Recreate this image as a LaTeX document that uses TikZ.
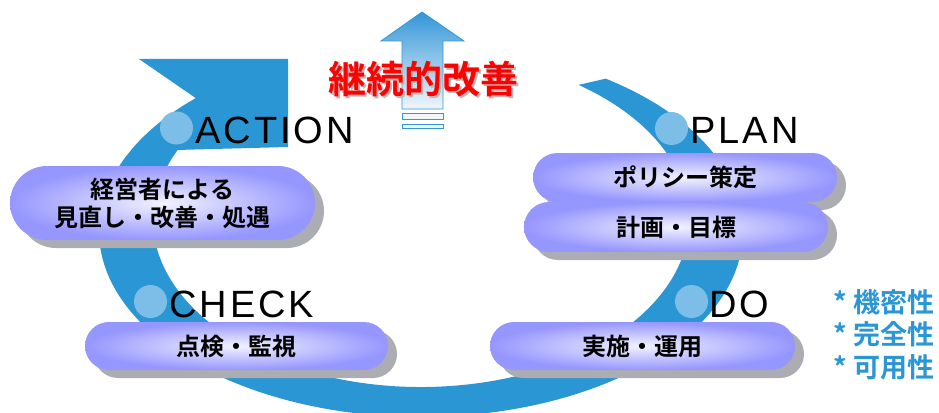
\documentclass[tikz,border=0pt]{standalone}
\usepackage{fontspec}
\setmainfont{Liberation Sans}
\newfontfamily\stagefont{Liberation Sans}[LetterSpace=8.0]
\newfontfamily\jpfont{Noto Sans CJK JP}[BoldFont={Noto Sans CJK JP Bold}]
\usetikzlibrary{calc}
\definecolor{ringblue}{RGB}{42,150,212}
\definecolor{dotblue}{RGB}{125,190,232}
\definecolor{pillin}{RGB}{242,242,255}
\definecolor{pillout}{RGB}{150,150,255}
\definecolor{pillshade}{RGB}{172,173,178}
\definecolor{arrowtop}{RGB}{50,150,215}
\definecolor{arrowbot}{RGB}{242,246,252}
\definecolor{titlered}{RGB}{255,0,0}
\definecolor{titleshade}{RGB}{185,185,185}
\tikzset{
  pill/.style={inner sep=0pt, align=center, text=black, inner color=pillin, outer color=pillout,
    font=\jpfont\bfseries\fontsize{24}{28}\selectfont},
  stage/.style={anchor=base west, inner sep=0pt, font=\stagefont\fontsize{38}{40}\selectfont},
  stagedot/.style={circle, fill=dotblue, minimum size=33pt, inner sep=0pt},
  title/.style={inner sep=0pt, font=\jpfont\bfseries\fontsize{38}{40}\selectfont},
}
% pill box with flat shadow: name, centre, width:height, radius, text
\def\pillbox(#1)(#2,#3)(#4:#5:#6)#7{%
  \fill[pillshade, rounded corners=#6] (#2-#4/2+9, #3-#5/2+8) rectangle (#2+#4/2+9, #3+#5/2+8);
  \node[pill, minimum width=#4pt, minimum height=#5pt, rounded corners=#6] (#1) at (#2, #3) {#7};}

\begin{document}
\begin{tikzpicture}[x=1pt, y=-1pt]
			%%%%% START %%%%%
			\useasboundingbox (0, 0) rectangle (939, 412);
			\clip (0, 0) rectangle (939, 412);
			
			% big cycle arrow
			\fill[ringblue] ([shift={(421, 231)}]-55:322 and 186) arc[start angle=-55, end angle=225.6, x radius=322, y radius=186]
				-- (139, 59) -- (288, 59) -- (288, 147)
				-- ([shift={(421, 220)}]204.8:268 and 167) arc[start angle=204.8, end angle=-54, x radius=268, y radius=167] -- cycle;
			
			\node[stagedot] (actdot) at (176.5, 128) {};
			\node[stagedot] (plandot) at (671.5, 128.5) {};
			\node[stagedot] (checkdot) at (150.5, 301.5) {};
			\node[stagedot] (dodot) at (691.5, 301.5) {};
			
			\node[stage] (action) at (195, 143) {ACTION};
			\node[stage] (plan) at (690, 143) {PLAN};
			\node[stage] (check) at (169, 317) {CHECK};
			\node[stage] (do) at (709, 317) {DO};
			
			% boxes
			\pillbox(review)(162.5,203)(305:74:37pt){経営者による\\見直し・改善・処遇}
			\pillbox(policy)(685,177.5)(304:49:24.5pt){ポリシー策定}
			\pillbox(goal)(676,227)(304:50:25pt){計画・目標}
			\pillbox(monitor)(236.5,346)(303:48:24pt){点検・監視}
			\pillbox(operate)(642.5,346)(305:48:24pt){実施・運用}
			
			% up arrow
			\shade[top color=arrowtop, bottom color=arrowbot, draw=arrowtop, line width=0.8pt]
				(422, 12) -- (464, 41) -- (443, 41) -- (443, 109) -- (402, 109) -- (402, 41) -- (381, 41) -- cycle;
			\draw[fill=arrowbot, draw=arrowtop, line width=0.8pt] (402, 113) rectangle (443, 119);
			\draw[fill=arrowbot, draw=arrowtop, line width=0.8pt] (402, 124) rectangle (443, 128);
			
			\node[title, text=titleshade] (kaizenshade) at (425, 81) {継続的改善};
			\node[title, text=titlered] (kaizen) at (423, 79) {継続的改善};
			
			\node[anchor=base west, inner sep=0pt, align=left, text=ringblue, font=\jpfont\bfseries\fontsize{27}{32.5}\selectfont] (props) at (833, 377) {*\ 機密性\\*\ 完全性\\*\ 可用性};
			%%%%% END %%%%%
\end{tikzpicture}
\end{document}
